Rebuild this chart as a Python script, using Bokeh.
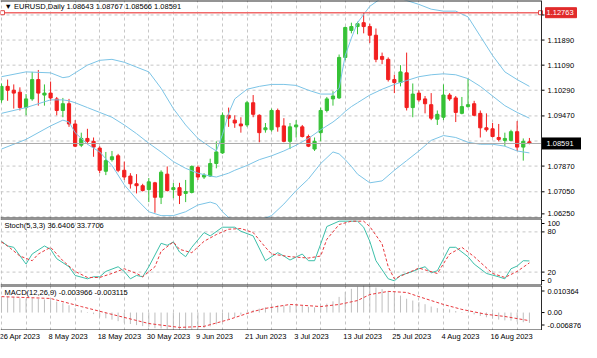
from bokeh.plotting import figure
from bokeh.layouts import column
from bokeh.models import Range1d, FixedTicker, Span, Label, ColumnDataSource
from bokeh.embed import file_html
from bokeh.resources import INLINE
from bokeh.core.properties import value

# ---------------- data ----------------
symbol = "EURUSD"
period = "Daily"

opens = [1.09982, 1.10413, 1.10290, 1.10229, 1.09736, 1.10013, 1.10629, 1.10136, 1.10198, 1.10013,
         1.09644, 1.09859, 1.09213, 1.08536, 1.08752, 1.08659, 1.08444, 1.07705, 1.08075, 1.08198,
         1.07736, 1.07552, 1.07305, 1.07244, 1.07121, 1.07336, 1.06875, 1.07613, 1.07121, 1.07182,
         1.06998, 1.07029, 1.07829, 1.07521, 1.07552, 1.07952, 1.08290, 1.09490, 1.09336, 1.09213,
         1.09182, 1.09890, 1.09490, 1.09029, 1.09029, 1.09644, 1.09152, 1.08659, 1.09121, 1.09121,
         1.08813, 1.08413, 1.08936, 1.09644, 1.10013, 1.10044, 1.11336, 1.12198, 1.12321, 1.12444,
         1.12321, 1.12044, 1.11367, 1.11275, 1.10629, 1.10536, 1.10844, 1.09736, 1.10198, 1.10013,
         1.09829, 1.09367, 1.09428, 1.10136, 1.10044, 1.09552, 1.09767, 1.09859, 1.09552, 1.09090,
         1.09059, 1.08782, 1.08690, 1.08690, 1.08967, 1.08475, 1.08643]
highs = [1.10505, 1.10629, 1.10475, 1.10382, 1.10167, 1.10875, 1.10936, 1.10475, 1.10567, 1.10075,
         1.10044, 1.10013, 1.09336, 1.08936, 1.09059, 1.08782, 1.08505, 1.08321, 1.08352, 1.08259,
         1.08013, 1.07644, 1.07613, 1.07305, 1.07490, 1.07367, 1.07736, 1.07859, 1.07336, 1.07336,
         1.07428, 1.07890, 1.07890, 1.07644, 1.08105, 1.08659, 1.09582, 1.09736, 1.09490, 1.09428,
         1.09952, 1.10136, 1.09521, 1.09244, 1.09705, 1.09705, 1.09398, 1.09244, 1.09336, 1.09182,
         1.08875, 1.08782, 1.09736, 1.10075, 1.10259, 1.11429, 1.12321, 1.12444, 1.12475, 1.12763,
         1.12413, 1.12259, 1.11490, 1.11336, 1.10782, 1.11090, 1.11490, 1.10505, 1.10290, 1.10105,
         1.10198, 1.09644, 1.10475, 1.10198, 1.10105, 1.10075, 1.10659, 1.09952, 1.09644, 1.09552,
         1.09244, 1.09213, 1.08936, 1.09029, 1.09305, 1.08752, 1.08767]
lows = [1.09890, 1.09952, 1.09705, 1.09644, 1.09490, 1.09952, 1.09798, 1.09798, 1.09952, 1.09490,
        1.09428, 1.09121, 1.08475, 1.08475, 1.08567, 1.08167, 1.07644, 1.07582, 1.08013, 1.07675,
        1.07428, 1.07152, 1.06998, 1.07059, 1.06721, 1.06382, 1.06659, 1.07059, 1.06844, 1.06659,
        1.06721, 1.06998, 1.07428, 1.07459, 1.07521, 1.07798, 1.08259, 1.09121, 1.09090, 1.08936,
        1.09121, 1.09428, 1.08629, 1.08936, 1.08967, 1.08967, 1.08629, 1.08413, 1.08782, 1.08782,
        1.08475, 1.08352, 1.08659, 1.09582, 1.09798, 1.10013, 1.11244, 1.12105, 1.12075, 1.12105,
        1.11798, 1.11182, 1.11121, 1.10567, 1.10198, 1.10413, 1.09644, 1.09428, 1.09921, 1.09552,
        1.09336, 1.09182, 1.09336, 1.09952, 1.09275, 1.09521, 1.09736, 1.09459, 1.08782, 1.08967,
        1.08782, 1.08659, 1.08505, 1.08659, 1.08352, 1.08044, 1.08566]
closes = [1.10413, 1.10290, 1.10198, 1.09736, 1.10013, 1.10629, 1.10198, 1.10198, 1.10044, 1.09644,
          1.09859, 1.09213, 1.08505, 1.08752, 1.08659, 1.08475, 1.07736, 1.08044, 1.08167, 1.07736,
          1.07521, 1.07305, 1.07244, 1.07090, 1.07367, 1.06875, 1.07675, 1.07090, 1.07182, 1.06936,
          1.07059, 1.07859, 1.07521, 1.07582, 1.07952, 1.08321, 1.09490, 1.09398, 1.09244, 1.09152,
          1.09890, 1.09521, 1.08936, 1.09090, 1.09644, 1.09121, 1.08659, 1.09121, 1.09182, 1.08813,
          1.08505, 1.08659, 1.09644, 1.10013, 1.10105, 1.11336, 1.12290, 1.12321, 1.12413, 1.12321,
          1.12044, 1.11275, 1.11275, 1.10629, 1.10536, 1.10875, 1.09736, 1.10167, 1.09982, 1.09859,
          1.09398, 1.09521, 1.10136, 1.10013, 1.09582, 1.09767, 1.09829, 1.09490, 1.09090, 1.09029,
          1.08813, 1.08721, 1.08752, 1.08967, 1.08475, 1.08659, 1.08591]

band_idx = [0, 4, 8, 10, 11, 12, 14, 16, 18, 20, 22, 24, 26, 28, 30, 32, 34, 35, 36, 37, 38, 40, 42, 44,
            46, 48, 50, 52, 54, 55, 56, 57, 58, 60, 62, 64, 66, 68, 70, 72, 74, 76, 78, 80, 82, 84, 86]
bb_upper = [1.10721, 1.10875, 1.10844, 1.10690, 1.10721, 1.10844, 1.11090, 1.11244, 1.11275, 1.11182,
            1.11028, 1.10875, 1.10352, 1.09705, 1.09182, 1.08752, 1.08475, 1.08352, 1.08875, 1.09552,
            1.10013, 1.10321, 1.10413, 1.10475, 1.10475, 1.10444, 1.10290, 1.10167, 1.10167, 1.10352,
            1.11398, 1.11952, 1.12444, 1.12967, 1.13244, 1.13275, 1.13152, 1.13028, 1.12875, 1.12813,
            1.12813, 1.12629, 1.12013, 1.11398, 1.10875, 1.10629, 1.10413]
bb_middle = [1.09552, 1.09736, 1.09982, 1.09982, 1.09952, 1.09890, 1.09736, 1.09582, 1.09428, 1.09182,
             1.08905, 1.08598, 1.08321, 1.08013, 1.07798, 1.07644, 1.07552, 1.07521, 1.07582, 1.07644,
             1.07736, 1.07890, 1.08075, 1.08198, 1.08352, 1.08536, 1.08752, 1.09029, 1.09275, 1.09428,
             1.09613, 1.09767, 1.09890, 1.10136, 1.10321, 1.10475, 1.10598, 1.10721, 1.10782, 1.10813,
             1.10782, 1.10659, 1.10413, 1.10105, 1.09798, 1.09582, 1.09398]
bb_lower = [1.08413, 1.08721, 1.09152, 1.09336, 1.09275, 1.08936, 1.08567, 1.08321, 1.07890, 1.07275,
            1.06813, 1.06413, 1.06290, 1.06290, 1.06413, 1.06629, 1.06721, 1.06659, 1.06413, 1.06229,
            1.06136, 1.06105, 1.06136, 1.06290, 1.06659, 1.07090, 1.07459, 1.07952, 1.08321, 1.08259,
            1.08075, 1.07859, 1.07613, 1.07336, 1.07398, 1.07736, 1.08044, 1.08352, 1.08690, 1.08844,
            1.08782, 1.08629, 1.08567, 1.08567, 1.08505, 1.08352, 1.08290]

alert_level = 1.12763
price_ticks = [1.12690, 1.11890, 1.11090, 1.10290, 1.09470, 1.08670, 1.07870, 1.07050, 1.06250]
price_view = (1.06198, 1.13152)

stoch_k_idx = [0, 1, 2, 4, 5, 7, 8, 9, 11, 12, 14, 15, 16, 17, 19, 20, 21, 22, 23, 24, 26, 27, 28, 29,
               30, 31, 33, 34, 36, 38, 39, 41, 43, 45, 46, 47, 49, 50, 51, 52, 53, 55, 58, 59, 60, 61,
               63, 64, 65, 67, 68, 69, 70, 71, 73, 74, 76, 77, 79, 81, 82, 83, 84, 85, 86]
stoch_k = [66, 59, 57, 32, 47, 59, 54, 40, 28, 15, 10, 13, 13, 21, 28, 21, 10, 15, 13, 28, 63, 60, 65, 50,
           43, 57, 79, 74, 87, 87, 81, 74, 37, 49, 44, 38, 47, 37, 37, 62, 88, 96, 96, 87, 66, 37,
           10, 7, 15, 21, 25, 28, 19, 22, 57, 57, 43, 32, 18, 13, 10, 25, 29, 37, 36.6406]
stoch_d_idx = [0, 1, 3, 5, 6, 8, 10, 12, 14, 16, 18, 20, 22, 23, 25, 26, 28, 29, 31, 33, 35, 37, 39, 41,
               43, 44, 47, 50, 52, 53, 55, 57, 59, 60, 62, 63, 64, 66, 68, 71, 73, 75, 77, 80, 82, 84, 86]
stoch_d = [65, 59, 44, 37, 47, 57, 37, 21, 12, 12, 18, 25, 18, 13, 28, 51, 65, 54, 49, 66, 76, 84, 85, 79,
           57, 47, 43, 41, 44, 69, 91, 96, 96, 88, 62, 28, 10, 18, 26, 18, 47, 57, 43, 18, 12, 21, 33.7706]
stoch_levels = [20, 80]
stoch_scale = [0, 20, 80, 100]

macd_main = [0.0060, 0.0060, 0.0059, 0.0055, 0.0053, 0.0055, 0.0052, 0.0050, 0.0047, 0.0042,
             0.0036, 0.0028, 0.0017, 0.0009, 0.0002, -0.0006, -0.0016, -0.0022, -0.0027, -0.0033,
             -0.0039, -0.0044, -0.0048, -0.0052, -0.0055, -0.0060, -0.0061, -0.0064, -0.0066, -0.0068,
             -0.006876, -0.0066, -0.0063, -0.0059, -0.0053, -0.0045, -0.0034, -0.0025, -0.0017, -0.0008,
             0.0002, 0.0010, 0.0015, 0.0020, 0.0026, 0.0028, 0.0027, 0.0027, 0.0026, 0.0025,
             0.0022, 0.0020, 0.0025, 0.0034, 0.0043, 0.0060, 0.0079, 0.0091, 0.0099, 0.010364,
             0.0102, 0.0096, 0.0090, 0.0082, 0.0073, 0.0065, 0.0053, 0.0046, 0.0040, 0.0032,
             0.0023, 0.0017, 0.0015, 0.0012, 0.0006, 0.0002, -0.0002, -0.0007, -0.0013, -0.0018,
             -0.0023, -0.0027, -0.0030, -0.0031, -0.0035, -0.0037, -0.003966]
signal_idx = [0, 8, 13, 18, 24, 29, 33, 37, 41, 43, 47, 52, 55, 58, 60, 63, 66, 68, 72, 75, 79, 82, 86]
macd_signal = [0.0061, 0.0054, 0.0023, -0.0007, -0.0042, -0.0057, -0.0053, -0.0027, 0.0004, 0.0016,
               0.0031, 0.0023, 0.0031, 0.0046, 0.0069, 0.0081, 0.0077, 0.0061, 0.0031, 0.0012,
               -0.0007, -0.0015, -0.003115]

date_labels = ["26 Apr 2023", "8 May 2023", "18 May 2023", "30 May 2023", "9 Jun 2023", "21 Jun 2023",
               "3 Jul 2023", "13 Jul 2023", "25 Jul 2023", "4 Aug 2023", "16 Aug 2023"]
date_step = 8
grid_step = 4

# ---------------- styling / layout ----------------
FONT = "Liberation Sans"
FS = "7.5px"
GREEN = "#36C236"
RED = "#F21F1F"
BAND = "#7CC4E6"
GRID = "#C6C6C6"
FRAME = "#2A2A2A"
SIG = "#E8383D"
W = 581
AXW = 40
FW = W - AXW
H_MAIN, H_STO, H_MACD, H_DATE = 218, 67, 45, 12

n = len(opens)
idx = list(range(n))
x_start = -0.16
frame_end = n + 0.97                      # right edge of the chart area (price scale begins)
ppb = FW / (frame_end - x_start)          # pixels per bar
xr = Range1d(x_start, x_start + W / ppb)  # every pane spans the full width
grid_ticks = [t for t in range(0, n + 2, grid_step) if t < frame_end]


def pane(h, yr):
    p = figure(width=W, height=h, x_range=xr, y_range=yr, output_backend="svg",
               toolbar_location=None, x_axis_location=None, y_axis_location=None,
               min_border_left=0, min_border_right=0, min_border_top=0, min_border_bottom=0,
               background_fill_color="white", border_fill_color="white", outline_line_color=None)
    p.xgrid.ticker = FixedTicker(ticks=grid_ticks)
    p.xgrid.grid_line_color = GRID
    p.xgrid.grid_line_dash = "3 3"
    p.ygrid.visible = False
    return p


def frame_lines(p, lo, hi):
    # top and bottom edge of the pane (half of a 2px line lies inside) and the price-scale edge
    p.segment(x0=[x_start] * 2, x1=[frame_end] * 2, y0=[hi, lo], y1=[hi, lo],
              line_color=FRAME, line_width=2)
    p.add_layout(Span(location=frame_end, dimension="height", line_color=FRAME, line_width=1))


def hgrid(p, levels):
    k = len(levels)
    p.segment(x0=[x_start] * k, x1=[frame_end] * k, y0=levels, y1=levels,
              line_color=GRID, line_dash="3 3", line_width=1)


def scale(p, pos, texts):
    k = len(pos)
    p.segment(x0=[frame_end] * k, x1=[frame_end + 3 / ppb] * k, y0=pos, y1=pos,
              line_color="black", line_width=1)
    p.text(x=[frame_end + 6 / ppb] * k, y=pos, text=texts, text_align="left",
           text_baseline="middle", text_font=value(FONT), text_font_size=FS, text_color="black")


def caption(p, h, text):
    p.add_layout(Label(x=4, y=h - 7, x_units="screen", y_units="screen", text=text,
                       text_font=FONT, text_font_size=FS, text_color="black",
                       text_baseline="middle"))


# ---- main price pane ----
y_lo, y_hi = price_view
pm = pane(H_MAIN, Range1d(y_lo, y_hi))
hgrid(pm, price_ticks)

colors = [GREEN if c >= o else RED for o, c in zip(opens, closes)]
src = ColumnDataSource(dict(x=idx, o=opens, h=highs, l=lows, c=closes,
                            top=[max(o, c) for o, c in zip(opens, closes)],
                            bot=[min(o, c) for o, c in zip(opens, closes)],
                            col=colors))
pm.segment(x0="x", y0="l", x1="x", y1="h", line_color="col", line_width=1, source=src)
pm.vbar(x="x", width=0.52, top="top", bottom="bot", fill_color="col", line_color="col",
        line_width=1, source=src)

for band in (bb_upper, bb_middle, bb_lower):
    pm.line(band_idx, band, line_color=BAND, line_width=1)

pm.segment(x0=[x_start], x1=[frame_end], y0=[closes[-1]], y1=[closes[-1]],
           line_color="#A9A9A9", line_width=1)
pm.segment(x0=[x_start], x1=[frame_end], y0=[alert_level], y1=[alert_level],
           line_color="#F06A6A", line_width=1.5)
pm.scatter(x=[x_start + 2 / ppb, frame_end - 1 / ppb], y=[alert_level, alert_level], marker="square",
           size=4, fill_color="white", line_color="#E04848", line_width=1)
frame_lines(pm, y_lo, y_hi)

# price scale (the lowest label is nudged up so it stays inside the pane)
price_pos = [t + (3 / (H_MAIN / (y_hi - y_lo)) if t == min(price_ticks) else 0) for t in price_ticks]
scale(pm, price_pos, [f"{t:.5f}" for t in price_ticks])

pm.rect(x=[frame_end + 19.5 / ppb], y=[alert_level], width=[31], height=[10],
        width_units="screen", height_units="screen", fill_color="#E12B2B", line_color="#E12B2B")
pm.text(x=[frame_end + 5 / ppb], y=[alert_level], text=[f"{alert_level:.5f}"], text_align="left",
        text_baseline="middle", text_font=value(FONT), text_font_size=FS, text_color="white")
pm.rect(x=[frame_end + 20 / ppb], y=[closes[-1]], width=[39], height=[11],
        width_units="screen", height_units="screen", fill_color="black", line_color="black")
pm.text(x=[frame_end + 5 / ppb], y=[closes[-1]], text=[f"{closes[-1]:.5f}"], text_align="left",
        text_baseline="middle", text_font=value(FONT), text_font_size=FS, text_color="white")

caption(pm, H_MAIN + 1,
        f"\u25BC {symbol},{period}  {opens[-1]:.5f} {highs[-1]:.5f} {lows[-1]:.5f} {closes[-1]:.5f}")

# ---- stochastic pane ----
ps = pane(H_STO, Range1d(0, 100))
hgrid(ps, stoch_levels)
ps.line(stoch_k_idx, stoch_k, line_color="#3DBFA9", line_width=1)
ps.line(stoch_d_idx, stoch_d, line_color=SIG, line_width=1, line_dash="3 2")
frame_lines(ps, 0, 100)
sto_inset = 5 * 100 / H_STO
sto_pos = [v + sto_inset if v == 0 else (v - sto_inset if v == 100 else v) for v in stoch_scale]
scale(ps, sto_pos, [str(v) for v in stoch_scale])
caption(ps, H_STO, f"Stoch(5,3,3) {stoch_k[-1]:.4f} {stoch_d[-1]:.4f}")

# ---- MACD pane ----
macd_hi = max(max(macd_main), max(macd_signal))
macd_lo = min(min(macd_main), min(macd_signal))
pc = pane(H_MACD, Range1d(macd_lo, macd_hi))
pc.segment(x0=idx, y0=[0] * n, x1=idx, y1=macd_main, line_color="#BEBEBE", line_width=1)
pc.line(signal_idx, macd_signal, line_color=SIG, line_width=1, line_dash="3 2")
frame_lines(pc, macd_lo, macd_hi)
m_inset = 5.5 * (macd_hi - macd_lo) / H_MACD
scale(pc, [macd_hi - m_inset, 0.0, macd_lo + m_inset],
      [f"{macd_hi:.6f}", "0.00", f"{macd_lo:.6f}"])
caption(pc, H_MACD, f"MACD(12,26,9) {macd_main[-1]:.6f} {macd_signal[-1]:.6f}")

# ---- date labels ----
pdt = pane(H_DATE, Range1d(0, 1))
pdt.xgrid.visible = False
date_idx = list(range(0, n, date_step))[:len(date_labels)]
pdt.text(x=date_idx, y=[0.5] * len(date_idx), text=date_labels, text_align="left",
         text_baseline="middle", text_font=value(FONT), text_font_size=FS, text_color="black",
         x_offset=-2)

layout = column(pm, ps, pc, pdt, spacing=0)
open("out.html", "w").write(file_html(layout, INLINE))
